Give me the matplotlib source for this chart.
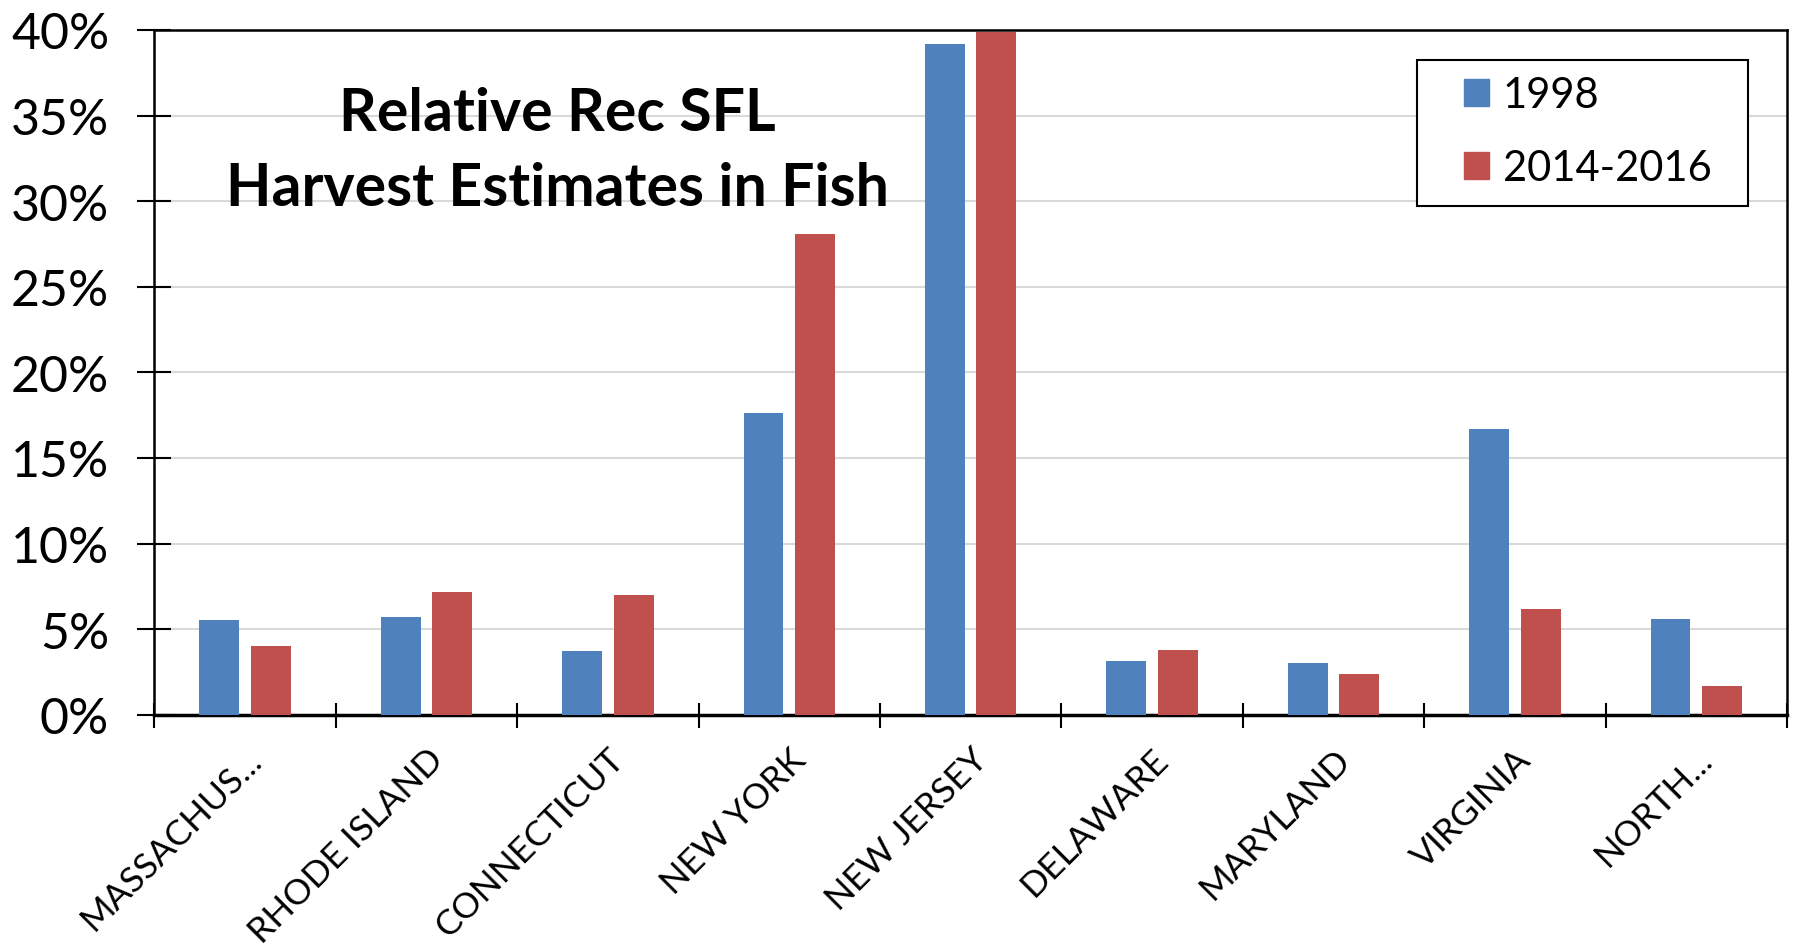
import matplotlib
matplotlib.use("Agg")
import matplotlib.pyplot as plt
from matplotlib.ticker import PercentFormatter
from matplotlib.patches import Patch, Rectangle
import numpy as np

states = ["MASSACHUS...", "RHODE ISLAND", "CONNECTICUT", "NEW YORK", "NEW JERSEY",
          "DELAWARE", "MARYLAND", "VIRGINIA", "NORTH..."]
share_1998 = [5.55, 5.7, 3.75, 17.65, 39.2, 3.15, 3.0, 16.7, 5.6]
share_2014_2016 = [4.0, 7.15, 7.0, 28.1, 39.9, 3.8, 2.4, 6.15, 1.7]
series_names = ["1998", "2014-2016"]

blue = "#4F81BD"
red = "#C0504D"

plt.rcParams["font.family"] = ["Lato", "DejaVu Sans"]

fig = plt.figure(figsize=(17.95, 9.53), dpi=100)
ax = fig.add_axes([0.086, 0.249, 0.9095, 0.7185])

x = np.arange(len(states))
w = 0.22
off = 0.142
ax.bar(x - off, share_1998, w, color=blue, zorder=3)
ax.bar(x + off, share_2014_2016, w, color=red, zorder=3)

ax.set_xlim(-0.5, len(states) - 0.5)
ax.set_ylim(0, 40)
ax.set_yticks(np.arange(0, 41, 5))
ax.yaxis.set_major_formatter(PercentFormatter(decimals=0))
ax.grid(axis="y", color="#D9D9D9", lw=1.5, zorder=0)

# ticks at category boundaries, labels at centers
ax.set_xticks(np.arange(-0.5, len(states), 1))
ax.set_xticklabels([])
ax.set_xticks(x, minor=True)
ax.set_xticklabels(states, minor=True, rotation=45, ha="right",
                   rotation_mode="anchor", fontsize=25.5)
ax.tick_params(axis="x", which="major", direction="inout", length=18, width=1.5)
ax.tick_params(axis="x", which="minor", length=0, pad=20)
ax.tick_params(axis="y", direction="inout", length=24, width=1.5, labelsize=36, pad=20.5)

for s in ["left", "top", "right"]:
    ax.spines[s].set_linewidth(1.8)
ax.spines["bottom"].set_linewidth(2.5)

ax.text(0.247, 0.824, "Relative Rec SFL\nHarvest Estimates in Fish",
        transform=ax.transAxes, ha="center", va="center",
        fontsize=42.5, fontweight="bold", linespacing=1.48)

# legend box
ax.add_patch(Rectangle((0.7734, 0.7427), 0.2027, 0.2139, transform=ax.transAxes,
                       facecolor="white", edgecolor="black", lw=1.5, zorder=4))
handles = [Patch(color=blue), Patch(color=red)]
leg = ax.legend(handles, series_names, loc="center left",
                bbox_to_anchor=(0.8023, 0.8513), borderaxespad=0, borderpad=0,
                fontsize=30, frameon=False, handlelength=0.6, handleheight=0.6,
                handletextpad=0.33, labelspacing=0.84)
leg.set_zorder(5)

fig.savefig("out.png", dpi=100)
